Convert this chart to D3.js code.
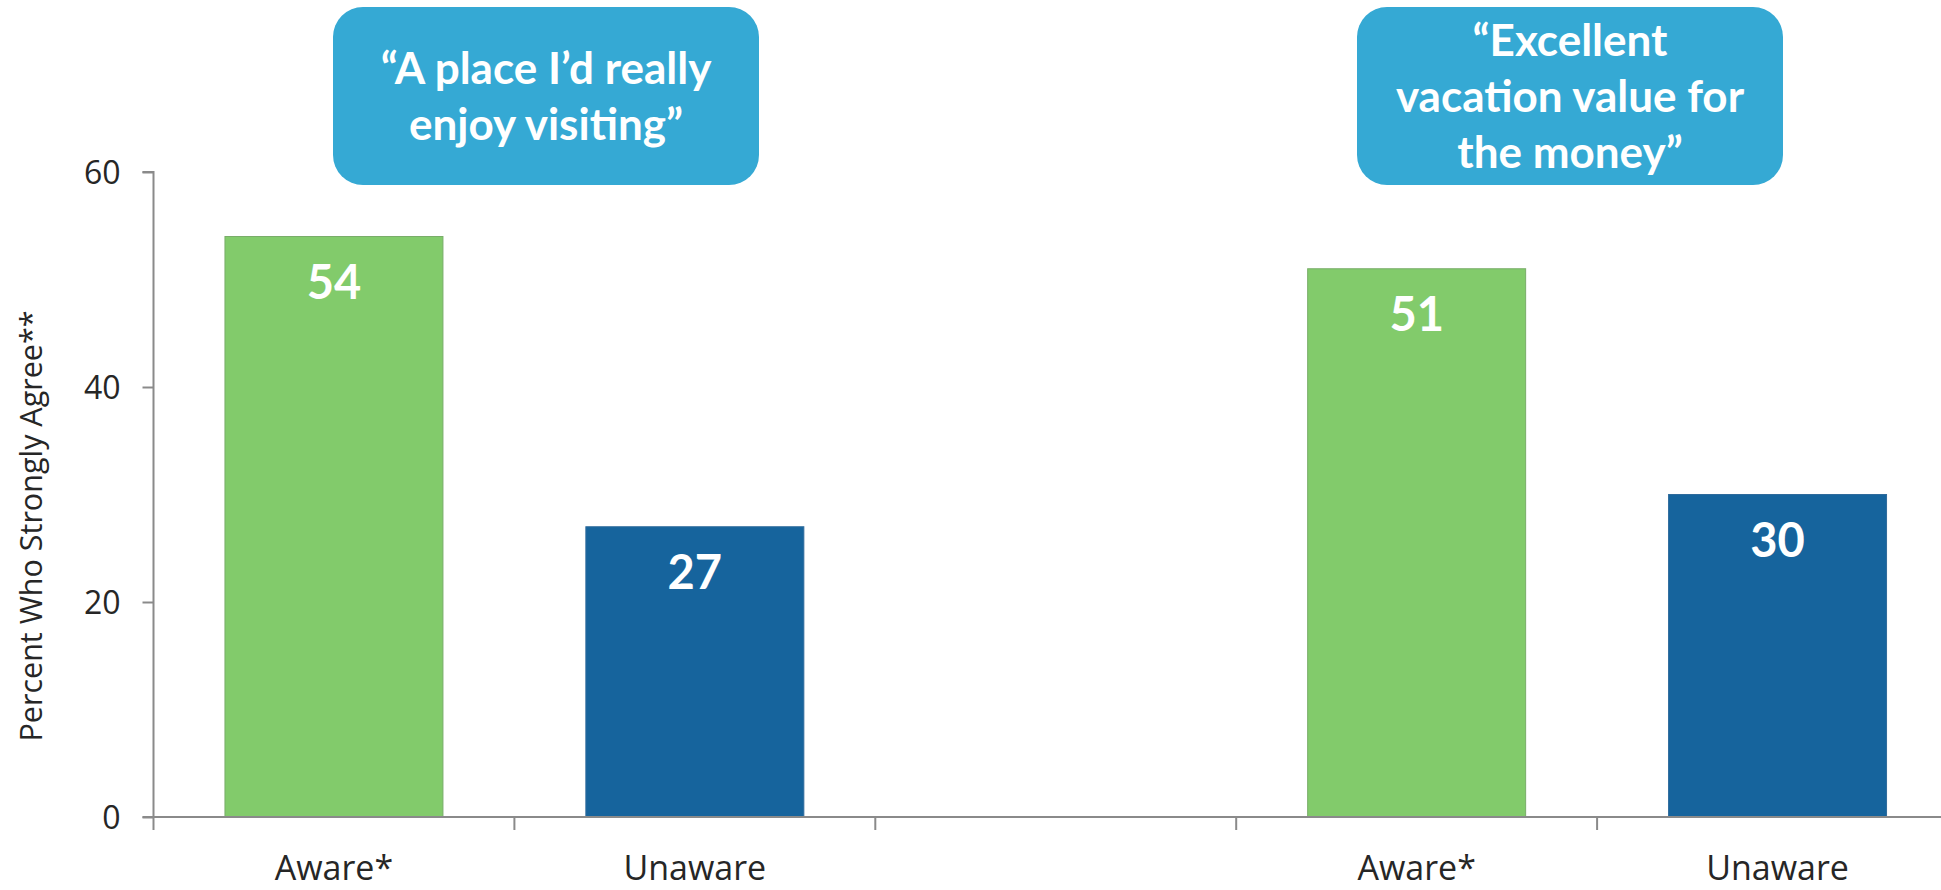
<!DOCTYPE html>
<html>
<head>
<meta charset="utf-8">
<script src="https://cdn.jsdelivr.net/npm/d3@7"></script>
<style>
  html, body { margin: 0; padding: 0; background: #ffffff; overflow: hidden; }
  svg { display: block; }
</style>
</head>
<body>
<svg id="chart" width="1941" height="890"></svg>
<script>
// Survey statements shown above each pair of bars (one entry per line)
const statementLines = [
  ["\u201CA place I\u2019d really", "enjoy visiting\u201D"],
  ["\u201CExcellent", "vacation value for", "the money\u201D"]
];
// Respondent groups within each statement
const groups = ["Aware*", "Unaware"];
// Percent who strongly agree, by statement
const awareValues = [54, 51];
const unawareValues = [27, 30];
// Y axis ticks
const yTicks = [0, 20, 40, 60];
const yLabel = "Percent Who Strongly Agree**";

const colors = { "Aware*": "#82CB6B", "Unaware": "#16649D" };
const strokes = { "Aware*": "#79ad69", "Unaware": "#2f6b9c" };

// Slots along the category axis: two bars, an empty slot, two bars
const slots = [
  { key: "s0-aware", label: groups[0], stmt: 0, value: awareValues[0] },
  { key: "s0-unaware", label: groups[1], stmt: 0, value: unawareValues[0] },
  { key: "gap", label: "", stmt: null, value: null },
  { key: "s1-aware", label: groups[0], stmt: 1, value: awareValues[1] },
  { key: "s1-unaware", label: groups[1], stmt: 1, value: unawareValues[1] }
];

const svg = d3.select("#chart");
const plot = { left: 153.5, right: 1958, top: 172, bottom: 817 };

const x = d3.scaleBand()
  .domain(slots.map(d => d.key))
  .range([plot.left, plot.right])
  .paddingInner(0.396)
  .paddingOuter(0.198);

const y = d3.scaleLinear().domain([0, 60]).range([plot.bottom, plot.top]);

const axisColor = "#8a8a8a";
const axisFont = "'Open Sans', 'DejaVu Sans', sans-serif";
const boldFont = "Lato, 'Open Sans', sans-serif";

// Bars
svg.append("g").selectAll("rect")
  .data(slots.filter(d => d.value !== null))
  .join("rect")
  .attr("x", d => x(d.key))
  .attr("y", d => y(d.value))
  .attr("width", x.bandwidth())
  .attr("height", d => y(0) - y(d.value))
  .attr("fill", d => colors[d.label])
  .attr("stroke", d => strokes[d.label])
  .attr("stroke-width", 1);

// Value labels inside bars
svg.append("g").selectAll("text")
  .data(slots.filter(d => d.value !== null))
  .join("text")
  .attr("x", d => x(d.key) + x.bandwidth() / 2)
  .attr("y", d => y(d.value) + 62)
  .attr("text-anchor", "middle")
  .attr("fill", "#ffffff")
  .attr("font-family", boldFont)
  .attr("font-weight", 700)
  .attr("font-size", 47)
  .text(d => d.value);

// Y axis
const yAxis = d3.axisLeft(y).tickValues(yTicks).tickSize(11).tickPadding(22);
const yg = svg.append("g").attr("transform", `translate(${plot.left},0)`).call(yAxis);
yg.select(".domain").attr("stroke", axisColor).attr("stroke-width", 2)
  .attr("d", `M-11,${plot.top}H0V${plot.bottom}`);
yg.selectAll(".tick line").attr("stroke", axisColor).attr("stroke-width", 2);
yg.selectAll(".tick text")
  .attr("fill", "#262626")
  .attr("font-family", axisFont)
  .attr("font-size", 32)
  .attr("dy", "0.36em");

// X axis: line at zero with ticks between categories
const xg = svg.append("g").attr("transform", `translate(0,${plot.bottom})`);
xg.append("line")
  .attr("x1", plot.left - 11).attr("x2", 1941)
  .attr("y1", 0).attr("y2", 0)
  .attr("stroke", axisColor).attr("stroke-width", 2);
const boundaries = slots.map(d => x(d.key) - x.step() * x.paddingInner() / 2);
xg.selectAll("line.tick")
  .data(boundaries)
  .join("line")
  .attr("class", "tick")
  .attr("x1", d => d).attr("x2", d => d)
  .attr("y1", 0).attr("y2", 13)
  .attr("stroke", axisColor).attr("stroke-width", 2);
xg.selectAll("text")
  .data(slots.filter(d => d.label))
  .join("text")
  .attr("x", d => x(d.key) + x.bandwidth() / 2)
  .attr("y", 63)
  .attr("text-anchor", "middle")
  .attr("fill", "#262626")
  .attr("font-family", axisFont)
  .attr("font-size", 34)
  .text(d => d.label);

// Y axis title
svg.append("text")
  .attr("transform", `translate(42,526) rotate(-90)`)
  .attr("text-anchor", "middle")
  .attr("fill", "#262626")
  .attr("font-family", axisFont)
  .attr("font-size", 30.5)
  .text(yLabel);

// Statement callouts
const callouts = [
  { left: 333, lines: statementLines[0] },
  { left: 1357, lines: statementLines[1] }
];
const boxW = 426, boxH = 178, boxTop = 7, lineH = 56;
const cg = svg.append("g").selectAll("g").data(callouts).join("g");
cg.append("rect")
  .attr("x", d => d.left)
  .attr("y", boxTop)
  .attr("width", boxW)
  .attr("height", boxH)
  .attr("rx", 30).attr("ry", 30)
  .attr("fill", "#35A9D4");
cg.each(function(d) {
  const n = d.lines.length;
  const firstBaseline = boxTop + boxH / 2 - (n - 1) * lineH / 2 + 16;
  d3.select(this).selectAll("text")
    .data(d.lines)
    .join("text")
    .attr("x", d.left + boxW / 2)
    .attr("y", (t, i) => firstBaseline + i * lineH)
    .attr("text-anchor", "middle")
    .attr("fill", "#ffffff")
    .attr("font-family", boldFont)
    .attr("font-weight", 700)
    .attr("font-size", 44)
    .text(t => t);
});
</script>
</body>
</html>
